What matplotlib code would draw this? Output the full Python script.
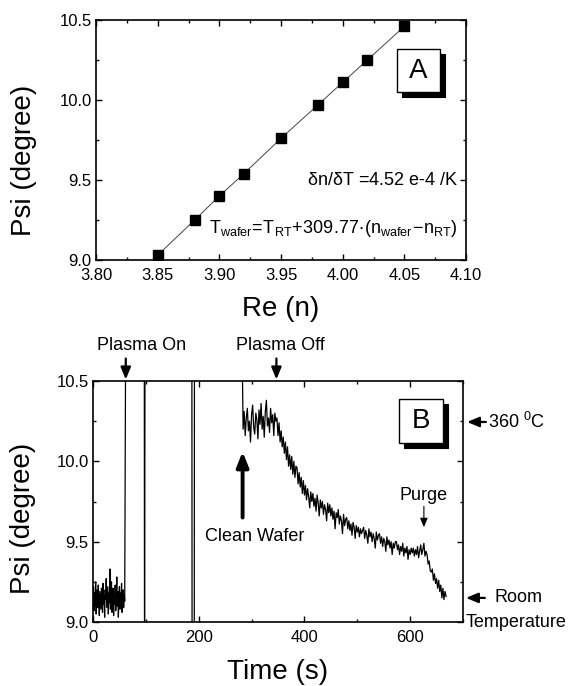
import numpy as np
import matplotlib
matplotlib.use('Agg')
import matplotlib.pyplot as plt
from matplotlib.patches import Rectangle
from matplotlib.ticker import MultipleLocator, FormatStrFormatter

plt.rcParams['font.family'] = ['Liberation Sans', 'DejaVu Sans']
plt.rcParams['mathtext.fontset'] = 'custom'
plt.rcParams['mathtext.rm'] = 'Liberation Sans'
plt.rcParams['mathtext.it'] = 'Liberation Sans'
plt.rcParams['mathtext.bf'] = 'Liberation Sans:bold'

# ---------------- Panel A data ----------------
re_n = [3.85, 3.88, 3.90, 3.92, 3.95, 3.98, 4.00, 4.02, 4.05]
psi_a = [9.03, 9.25, 9.40, 9.54, 9.76, 9.97, 10.11, 10.25, 10.46]
xticks_a = [3.80, 3.85, 3.90, 3.95, 4.00, 4.05, 4.10]
yticks = [9.0, 9.5, 10.0, 10.5]

# ---------------- Panel B data ----------------
# before plasma (sampled every 1 s, 0..60 s)
psi_pre = [9.14, 9.22, 9.07, 9.18, 9.10, 9.25, 9.05, 9.16, 9.20, 9.09,
           9.23, 9.12, 9.04, 9.19, 9.13, 9.08, 9.21, 9.15, 9.06, 9.24,
           9.11, 9.17, 9.03, 9.20, 9.14, 9.27, 9.09, 9.16, 9.22, 9.05,
           9.18, 9.12, 9.33, 9.08, 9.19, 9.25, 9.06, 9.15, 9.21, 9.04,
           9.17, 9.11, 9.23, 9.07, 9.16, 9.28, 9.10, 9.19, 9.03, 9.14,
           9.22, 9.08, 9.18, 9.12, 9.24, 9.06, 9.15, 9.20, 9.09, 9.17,
           9.13]
t_pre_range = (0, 60)
# off-scale excursions during plasma
t_jump = [62, 97, 97.5, 98.5, 187, 187.5, 191.5, 192, 281]
psi_jump = [11.0, 11.0, 8.5, 11.0, 11.0, 8.5, 8.5, 11.0, 11.0]
# cooling after clean wafer (sampled every 2 s, 284..668 s)
psi_post = [10.20, 10.31, 10.16, 10.27, 10.33, 10.19, 10.25, 10.12, 10.29, 10.35,
            10.21, 10.17, 10.30, 10.26, 10.14, 10.32, 10.23, 10.36, 10.20, 10.28,
            10.15, 10.31, 10.38, 10.22, 10.27, 10.18, 10.33, 10.24, 10.29, 10.16,
            10.30, 10.25,
            10.27, 10.16, 10.24, 10.12, 10.19, 10.09,
            10.15, 10.05, 10.12, 10.01, 10.09, 9.97, 10.04,
            9.95, 10.03, 9.92, 10.00, 9.90, 9.97,
            9.96, 9.86, 9.93, 9.84, 9.90, 9.80,
            9.88, 9.79, 9.85, 9.76, 9.83, 9.78, 9.71, 9.81, 9.75,
            9.80, 9.72, 9.77, 9.69, 9.79, 9.74, 9.66, 9.76, 9.71, 9.75,
            9.67, 9.73, 9.70, 9.63, 9.74, 9.68,
            9.73, 9.66, 9.71, 9.64, 9.69, 9.58, 9.68, 9.65, 9.70, 9.61,
            9.66, 9.63, 9.55, 9.67, 9.60, 9.64,
            9.65, 9.58, 9.63, 9.57, 9.61, 9.54, 9.62, 9.59, 9.52, 9.60,
            9.56, 9.59, 9.53, 9.58, 9.55, 9.57,
            9.59, 9.52, 9.57, 9.54, 9.49, 9.58, 9.53, 9.56, 9.50, 9.55,
            9.52, 9.46, 9.56, 9.51, 9.54,
            9.55, 9.49, 9.53, 9.47, 9.52, 9.50, 9.44, 9.53, 9.48, 9.51,
            9.46, 9.50, 9.42, 9.49, 9.46, 9.50,
            9.50, 9.45, 9.48, 9.42, 9.47, 9.44, 9.49, 9.41, 9.46, 9.43,
            9.47, 9.39, 9.45, 9.42, 9.46, 9.43,
            9.46, 9.41, 9.45, 9.42, 9.47, 9.40, 9.44, 9.48, 9.42, 9.45,
            9.49, 9.41, 9.44,
            9.42, 9.36, 9.38, 9.32, 9.31,
            9.33, 9.26, 9.30, 9.24, 9.27, 9.21, 9.26, 9.19, 9.23, 9.15,
            9.21, 9.14, 9.19, 9.16]
t_post_range = (284, 668)
xticks_b = [0, 200, 400, 600]

fig = plt.figure(figsize=(5.74, 6.86), dpi=100)
W, H = 574.0, 686.0

def style_axes(ax):
    for s in ax.spines.values():
        s.set_linewidth(1.2)
    ax.tick_params(which='both', direction='in', top=True, right=True,
                   labelsize=12, width=1.0)
    ax.tick_params(which='major', length=4)
    ax.tick_params(which='minor', length=2.5)
    ax.tick_params(axis='x', which='major', pad=5.5)
    ax.tick_params(axis='y', which='major', pad=3)

# ---------- Panel A ----------
ax1 = fig.add_axes([96 / W, 1 - 260 / H, 370 / W, 240 / H])
ax1.plot(re_n, psi_a, '-', color='#444444', lw=0.7)
ax1.plot(re_n, psi_a, 's', color='black', ms=6.5, ls='none')
ax1.set_xlim(3.80, 4.10)
ax1.set_ylim(9.0, 10.5)
ax1.set_xticks(xticks_a)
ax1.set_yticks(yticks)
ax1.xaxis.set_minor_locator(MultipleLocator(0.025))
ax1.yaxis.set_minor_locator(MultipleLocator(0.25))
ax1.xaxis.set_major_formatter(FormatStrFormatter('%.2f'))
ax1.yaxis.set_major_formatter(FormatStrFormatter('%.1f'))
style_axes(ax1)
ax1.set_xlabel('Re (n)', fontsize=20, va='center')
ax1.xaxis.set_label_coords(0.5, -0.205)
ax1.set_ylabel('Psi (degree)', fontsize=20, va='center')
ax1.yaxis.set_label_coords(-0.195, 0.417)

ax1.text(4.0935, 9.47, r'$\delta$n/$\delta$T =4.52 e-4 /K', fontsize=13,
         ha='right', va='baseline')
ax1.text(4.0935, 9.17,
         r'$\mathregular{T_{wafer}\!=\!T_{RT}\!+\!309.77\!\cdot\!(n_{wafer}\!-\!n_{RT})}$',
         fontsize=13, ha='right', va='baseline')

def label_box(ax, x0, y0, w, h, letter, dx, dy):
    ax.add_patch(Rectangle((x0 + dx, y0 - dy), w, h, transform=ax.transAxes,
                           facecolor='black', edgecolor='black', lw=0.8,
                           zorder=5, clip_on=False))
    ax.add_patch(Rectangle((x0, y0), w, h, transform=ax.transAxes,
                           facecolor='white', edgecolor='black', lw=1.0,
                           zorder=6, clip_on=False))
    ax.text(x0 + w / 2, y0 + h / 2, letter, transform=ax.transAxes,
            fontsize=20, ha='center', va='center', zorder=7)

label_box(ax1, (397 - 96) / 370, (260 - 92) / 240, 43 / 370, 43 / 240, 'A',
          5 / 370, 5 / 240)

# ---------- Panel B ----------
ax2 = fig.add_axes([93 / W, 1 - 622 / H, 370 / W, 241 / H])
t_pre = np.linspace(t_pre_range[0], t_pre_range[1], len(psi_pre))
t_post = np.linspace(t_post_range[0], t_post_range[1], len(psi_post))
t_all = np.concatenate([t_pre, t_jump, t_post])
psi_all = np.concatenate([psi_pre, psi_jump, psi_post])
ax2.plot(t_all, psi_all, '-', color='black', lw=0.9)
ax2.set_xlim(0, 700)
ax2.set_ylim(9.0, 10.5)
ax2.set_xticks(xticks_b)
ax2.set_yticks(yticks)
ax2.xaxis.set_minor_locator(MultipleLocator(100))
ax2.yaxis.set_minor_locator(MultipleLocator(0.25))
ax2.yaxis.set_major_formatter(FormatStrFormatter('%.1f'))
style_axes(ax2)
ax2.set_xlabel('Time (s)', fontsize=20, va='center')
ax2.xaxis.set_label_coords(0.5, -0.207)
ax2.set_ylabel('Psi (degree)', fontsize=20, va='center')
ax2.yaxis.set_label_coords(-0.19, 0.43)

label_box(ax2, (399 - 93) / 370, (622 - 443) / 241, 44 / 370, 44 / 241, 'B',
          5 / 370, 5 / 241)

def arrow(ax, tip, tail, lw, hl, hw, ms, coords='data'):
    ax.annotate('', xy=tip, xytext=tail, xycoords=coords, textcoords=coords,
                annotation_clip=False,
                arrowprops=dict(arrowstyle='-|>,head_length=%g,head_width=%g' % (hl, hw),
                                lw=lw, color='black', shrinkA=0, shrinkB=0,
                                mutation_scale=ms))

# Plasma On / Off
arrow(ax2, (62, 10.51), (62, 10.64), 1.6, 0.6, 0.25, 12)
ax2.text(91, 10.724, 'Plasma On', fontsize=13, ha='center', va='center')
arrow(ax2, (347, 10.51), (347, 10.64), 1.6, 0.6, 0.25, 12)
ax2.text(355, 10.724, 'Plasma Off', fontsize=13, ha='center', va='center')

# Clean wafer
arrow(ax2, (283, 10.06), (283, 9.65), 2.8, 0.5, 0.2, 18)
ax2.text(306, 9.53, 'Clean Wafer', fontsize=13, ha='center', va='center')

# Purge
arrow(ax2, (626, 9.59), (626, 9.72), 0.8, 0.6, 0.25, 9)
ax2.text(626, 9.79, 'Purge', fontsize=13, ha='center', va='center')

# right side markers
arrow(ax2, (1.011, 10.245), (1.062, 10.245), 1.6, 0.6, 0.25, 12,
      coords=('axes fraction', 'data'))
ax2.text(1.068, 10.245, r'360 $\mathregular{^{0}}$C', fontsize=13, ha='left',
         va='center', transform=ax2.get_yaxis_transform())
arrow(ax2, (1.008, 9.15), (1.059, 9.15), 1.6, 0.6, 0.25, 12,
      coords=('axes fraction', 'data'))
ax2.text(1.086, 9.15, 'Room', fontsize=13, ha='left', va='center',
         transform=ax2.get_yaxis_transform())
ax2.text(1.008, 9.0, 'Temperature', fontsize=13, ha='left', va='center',
         transform=ax2.get_yaxis_transform())

fig.savefig('out.png', dpi=100)
